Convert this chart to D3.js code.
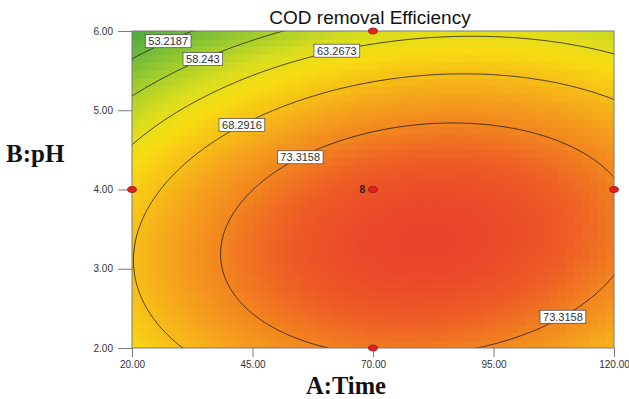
<!DOCTYPE html>
<html>
<head>
<meta charset="utf-8">
<script src="https://cdn.jsdelivr.net/npm/d3@7"></script>
<style>
  body { margin: 0; background: #fff; }
  svg { display: block; }
</style>
</head>
<body>
<svg id="chart" width="629" height="399"></svg>
<script>
// Quadratic response surface in coded factors: A = (Time - 70) / 50, B = (pH - 4) / 2
const modelTerms = ["Intercept", "A", "B", "AB", "A^2", "B^2"];
const modelCoefs = [76.83, 3.68, -6.28, 2.00, -6.81, -9.25];

// Contour levels drawn on the surface
const contourLevels = [53.2187, 58.243, 63.2673, 68.2916, 73.3158];

// Where each contour label sits (level, Time, rough pH)
const labelLevels = [53.2187, 58.243, 63.2673, 68.2916, 73.3158, 73.3158];
const labelTimes = [27.5, 34.7, 62.5, 42.8, 54.9, 109.4];
const labelPhGuess = [5.9, 5.7, 5.8, 4.9, 4.5, 2.5];

// Axis ticks
const xTicks = [20, 45, 70, 95, 120];
const yTicks = [2, 3, 4, 5, 6];

// Design points (Time, pH, replicate count label)
const designTime = [20, 70, 70, 70, 120];
const designPh = [4, 6, 4, 2, 4];
const designReps = ["", "", "8", "", ""];

// Colour ramp for the response
const colorValues = [48, 53, 58, 62, 65, 68, 71, 73.3, 76, 78.3];
const colorHexes = ["#48a63b", "#6db93a", "#a7cf2b", "#dcdd1c", "#f8dc12", "#f7c116", "#f5a01d", "#f2861f", "#ee5c25", "#e9432a"];

const svg = d3.select("#chart");
const plotLeft = 132, plotRight = 614, plotTop = 31, plotBottom = 348;

const x = d3.scaleLinear().domain([20, 120]).range([plotLeft, plotRight]);
const y = d3.scaleLinear().domain([2, 6]).range([plotBottom, plotTop]);
const color = d3.scaleLinear().domain(colorValues).range(colorHexes).clamp(true);

function response(time, ph) {
  const a = (time - 70) / 50, b = (ph - 4) / 2;
  const [c0, c1, c2, c12, c11, c22] = modelCoefs;
  return c0 + c1 * a + c2 * b + c12 * a * b + c11 * a * a + c22 * b * b;
}

svg.append("defs").append("clipPath").attr("id", "plotClip")
  .append("rect").attr("x", plotLeft).attr("y", plotTop)
  .attr("width", plotRight - plotLeft).attr("height", plotBottom - plotTop);

// Shaded surface, drawn as a grid of cells
const cellsX = 60, cellsY = 40;
const cells = [];
for (let j = 0; j < cellsY; j++) {
  for (let i = 0; i < cellsX; i++) {
    const t0 = 20 + 100 * i / cellsX, t1 = 20 + 100 * (i + 1) / cellsX;
    const p0 = 2 + 4 * j / cellsY, p1 = 2 + 4 * (j + 1) / cellsY;
    cells.push({ t0, t1, p0, p1, v: response((t0 + t1) / 2, (p0 + p1) / 2) });
  }
}
svg.append("g").attr("clip-path", "url(#plotClip)")
  .selectAll("rect").data(cells).join("rect")
  .attr("x", d => x(d.t0))
  .attr("y", d => y(d.p1))
  .attr("width", d => x(d.t1) - x(d.t0) + 0.6)
  .attr("height", d => y(d.p0) - y(d.p1) + 0.6)
  .attr("fill", d => color(d.v))
  .attr("shape-rendering", "crispEdges");

// Contour lines from a fine sampling of the surface
const nx = 241, ny = 161;
const grid = new Array(nx * ny);
for (let j = 0; j < ny; j++) {
  const ph = 6 - 4 * j / (ny - 1);
  for (let i = 0; i < nx; i++) {
    const t = 20 + 100 * i / (nx - 1);
    grid[j * nx + i] = response(t, ph);
  }
}
const gx = d3.scaleLinear().domain([0.5, nx - 0.5]).range([plotLeft, plotRight]).clamp(true);
const gy = d3.scaleLinear().domain([0.5, ny - 0.5]).range([plotTop, plotBottom]).clamp(true);
const contours = d3.contours().size([nx, ny]).thresholds(contourLevels)(grid);

const onEdge = p => p[0] <= 0 || p[0] >= nx || p[1] <= 0 || p[1] >= ny;
const polylines = [];
contours.forEach(c => {
  c.coordinates.forEach(poly => {
    poly.forEach(ring => {
      let current = [];
      for (let k = 0; k < ring.length; k++) {
        const p = ring[k];
        if (current.length && onEdge(p) && onEdge(current[current.length - 1])) {
          if (current.length > 1) polylines.push(current);
          current = [p];
        } else {
          current.push(p);
        }
      }
      if (current.length > 1) polylines.push(current);
    });
  });
});
const line = d3.line().x(p => gx(p[0])).y(p => gy(p[1]));
svg.append("g").attr("clip-path", "url(#plotClip)")
  .selectAll("path").data(polylines).join("path")
  .attr("d", line)
  .attr("fill", "none")
  .attr("stroke", "#1a1a1a")
  .attr("stroke-width", 0.8);

// Frame
svg.append("rect")
  .attr("x", plotLeft).attr("y", plotTop)
  .attr("width", plotRight - plotLeft).attr("height", plotBottom - plotTop)
  .attr("fill", "none").attr("stroke", "#7a7a7a").attr("stroke-width", 1);

// Contour labels
function phOnLevel(level, time, guess) {
  const a = (time - 70) / 50;
  const [c0, c1, c2, c12, c11, c22] = modelCoefs;
  const qa = c22, qb = c2 + c12 * a, qc = c0 + c1 * a + c11 * a * a - level;
  const disc = Math.max(0, qb * qb - 4 * qa * qc);
  const roots = [(-qb + Math.sqrt(disc)) / (2 * qa), (-qb - Math.sqrt(disc)) / (2 * qa)]
    .map(b => 4 + 2 * b);
  return roots.reduce((best, r) => Math.abs(r - guess) < Math.abs(best - guess) ? r : best);
}
const labels = labelLevels.map((lv, k) => ({
  level: lv,
  t: labelTimes[k],
  ph: phOnLevel(lv, labelTimes[k], labelPhGuess[k])
}));
const lg = svg.append("g").selectAll("g").data(labels).join("g")
  .attr("transform", d => `translate(${x(d.t)},${y(d.ph)})`);
lg.append("text")
  .attr("text-anchor", "middle")
  .attr("dy", "0.36em")
  .attr("font-family", "Liberation Sans, Arial, sans-serif")
  .attr("font-size", 11)
  .attr("fill", "#333")
  .text(d => d.level);
lg.each(function() {
  const g = d3.select(this);
  const bb = g.select("text").node().getBBox();
  g.insert("rect", "text")
    .attr("x", bb.x - 3).attr("y", -6.5)
    .attr("width", bb.width + 6).attr("height", 13)
    .attr("fill", "#fff").attr("stroke", "#444").attr("stroke-width", 0.7);
});

// Axes
const fmt = d3.format(".2f");
const yAxis = svg.append("g").attr("transform", `translate(${plotLeft},0)`)
  .call(d3.axisLeft(y).tickValues(yTicks).tickFormat(fmt).tickSize(14).tickPadding(5));
const xAxis = svg.append("g").attr("transform", `translate(0,${plotBottom})`)
  .call(d3.axisBottom(x).tickValues(xTicks).tickFormat(fmt).tickSize(9).tickPadding(4));
[yAxis, xAxis].forEach(ax => {
  ax.select(".domain").remove();
  ax.selectAll(".tick line").attr("stroke", "#7a7a7a");
  ax.selectAll(".tick text")
    .attr("font-family", "Liberation Sans, Arial, sans-serif")
    .attr("font-size", 10)
    .attr("fill", "#333");
});

// Design points
const pts = designTime.map((t, k) => ({ t, ph: designPh[k], rep: designReps[k] }));
svg.append("g").selectAll("ellipse").data(pts).join("ellipse")
  .attr("cx", d => x(d.t)).attr("cy", d => y(d.ph))
  .attr("rx", 4.5).attr("ry", 3)
  .attr("fill", "#e3201b").attr("stroke", "#8a1010").attr("stroke-width", 0.7);
svg.append("g").selectAll("text").data(pts.filter(d => d.rep)).join("text")
  .attr("x", d => x(d.t) - 8).attr("y", d => y(d.ph))
  .attr("dy", "0.35em")
  .attr("text-anchor", "end")
  .attr("font-family", "Liberation Sans, Arial, sans-serif")
  .attr("font-size", 10).attr("font-weight", "bold")
  .attr("fill", "#222")
  .text(d => d.rep);

// Titles
svg.append("text")
  .attr("x", 370).attr("y", 24)
  .attr("text-anchor", "middle")
  .attr("font-family", "Liberation Sans, Arial, sans-serif")
  .attr("font-size", 19)
  .attr("fill", "#111")
  .text("COD removal Efficiency");
svg.append("text")
  .attr("x", 6).attr("y", 162)
  .attr("font-family", "Liberation Serif, Times New Roman, serif")
  .attr("font-size", 25).attr("font-weight", "bold")
  .attr("fill", "#111")
  .text("B:pH");
svg.append("text")
  .attr("x", 346).attr("y", 394)
  .attr("text-anchor", "middle")
  .attr("font-family", "Liberation Serif, Times New Roman, serif")
  .attr("font-size", 24.5).attr("font-weight", "bold")
  .attr("fill", "#111")
  .text("A:Time");
</script>
</body>
</html>
